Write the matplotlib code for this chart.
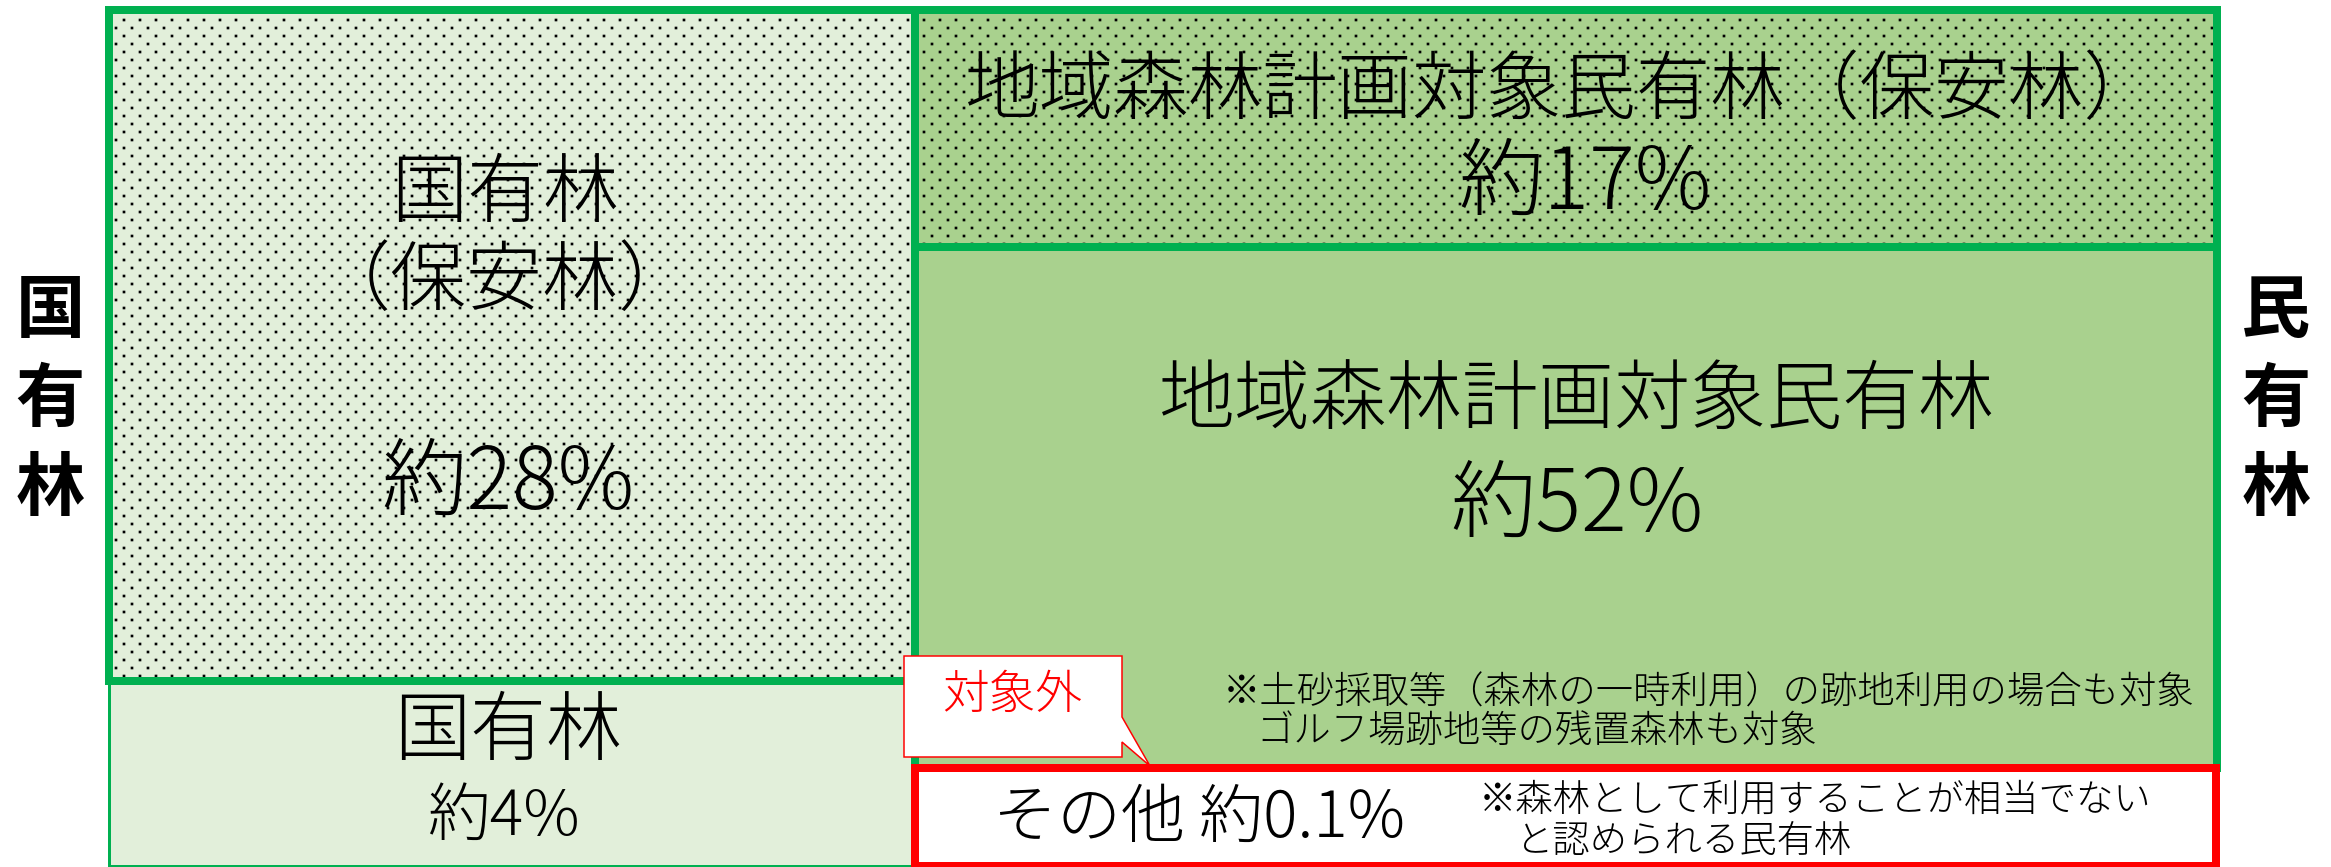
import numpy as np
import matplotlib
matplotlib.use("Agg")
import matplotlib.pyplot as plt
import matplotlib.hatch as mhatch
from matplotlib.path import Path
from matplotlib.patches import Rectangle, Polygon

plt.rcParams['font.family'] = ['Noto Sans CJK JP', 'DejaVu Sans']

# ---------------- data ----------------
categories = ["国有林\n（保安林）", "国有林", "地域森林計画対象民有林（保安林）",
              "地域森林計画対象民有林", "その他"]
shares = [28, 4, 17, 52, 0.1]
side_labels = ["国有林", "民有林"]
notes_private = ["※土砂採取等（森林の一時利用）の跡地利用の場合も対象",
                 "ゴルフ場跡地等の残置森林も対象"]
notes_other = ["※森林として利用することが相当でない", "と認められる民有林"]
callout_label = "対象外"

# ---------------- style / layout (pixel space) ----------------
GREEN = "#00B050"
RED = "#FF0000"
LIGHT = "#E2EFDA"
MID = "#A9D18E"

# boxes: x0, y0 (top), x1, y1 (bottom), fill, dotted, edge, edge width px
boxes = [
    (109, 10, 915, 681, LIGHT, True, GREEN, 8),
    (109, 681, 915, 866, LIGHT, False, GREEN, 3),
    (915, 10, 2217, 247, MID, True, GREEN, 8),
    (915, 247, 2217, 768, MID, False, GREEN, 8),
    (915, 768, 2216, 866, "white", False, RED, 8),
]

DOT_HALF = 1.0 / 96.0


class StaggeredSquareDots(mhatch.HatchPatternBase):
    """Dotted fill: staggered rows of small square dots."""
    def __init__(self, hatch, density):
        self.cols = hatch.count('.') * density
        self.rows = 2 * self.cols
        self.num_vertices = self.cols * self.rows * 5

    def set_vertices_and_codes(self, vertices, codes):
        h = DOT_HALF
        sq = np.array([[-h, -h], [h, -h], [h, h], [-h, h], [-h, -h]])
        sc = [Path.MOVETO, Path.LINETO, Path.LINETO, Path.LINETO, Path.CLOSEPOLY]
        k = 0
        for r in range(self.rows):
            y = (r + 0.5) / self.rows
            for c in range(self.cols):
                x = (c + 0.25 + 0.5 * (r % 2)) / self.cols
                vertices[k:k + 5] = sq + [x, y]
                codes[k:k + 5] = sc
                k += 5


_i = mhatch._hatch_types.index(mhatch.SmallFilledCircles)
mhatch._hatch_types[_i] = StaggeredSquareDots
plt.rcParams['hatch.linewidth'] = 0.5

DPI = 96
W, H = 2331, 867
fig = plt.figure(figsize=(W / DPI, H / DPI), dpi=DPI)
ax = fig.add_axes([0, 0, 1, 1])
ax.set_xlim(0, W)
ax.set_ylim(H, 0)
ax.axis("off")

px = 72.0 / DPI  # points per pixel

# fills
for (x0, y0, x1, y1, fc, dotted, ec, lw) in boxes:
    ax.add_patch(Rectangle((x0, y0), x1 - x0, y1 - y0, facecolor=fc,
                           edgecolor="black" if dotted else "none",
                           hatch="." if dotted else None, linewidth=0, zorder=1))
# borders
for (x0, y0, x1, y1, fc, dotted, ec, lw) in boxes:
    ax.add_patch(Rectangle((x0, y0), x1 - x0, y1 - y0, facecolor="none",
                           edgecolor=ec, linewidth=lw * px, joinstyle="miter",
                           zorder=3 if ec == RED else 2))

pct = [f"約{v:g}%" for v in shares]
TXT = dict(color="black", ha="center", va="center", fontweight="light", zorder=5)
TL = 57   # title size
PC = 64   # percent size

# 国有林（保安林）
ax.text(505, 194, categories[0].split("\n")[0], fontsize=TL, **TXT)
ax.text(505, 282, categories[0].split("\n")[1], fontsize=TL, **TXT)
ax.text(508, 484, pct[0], fontsize=PC, **TXT)
# 国有林
ax.text(508, 733, categories[1], fontsize=TL, **TXT)
ax.text(503, 818, pct[1], fontsize=47, **TXT)
# 民有林（保安林）
ax.text(1562, 92, categories[2], fontsize=56, **TXT)
ax.text(1585, 184, pct[2], fontsize=PC, **TXT)
# 民有林
ax.text(1577, 401, categories[3], fontsize=TL, **TXT)
ax.text(1577, 506, pct[3], fontsize=PC, **TXT)
# notes
ax.text(1223, 693, notes_private[0], fontsize=28, color="black", ha="left",
        va="center", fontweight="light", zorder=5)
ax.text(1256, 732, notes_private[1], fontsize=28, color="black", ha="left",
        va="center", fontweight="light", zorder=5)
# その他
ax.text(993, 819, f"{categories[4]} {pct[4]}", fontsize=48, color="black",
        ha="left", va="center", fontweight="light", zorder=5)
ax.text(1479, 800, notes_other[0], fontsize=28, color="black", ha="left",
        va="center", fontweight="light", zorder=5)
ax.text(1516, 841, notes_other[1], fontsize=28, color="black", ha="left",
        va="center", fontweight="light", zorder=5)

# callout
callout = [(904, 656), (1122, 656), (1122, 717), (1150, 766), (1122, 742),
           (1122, 757), (904, 757)]
ax.add_patch(Polygon(callout, closed=True, facecolor="white", edgecolor=RED,
                     linewidth=1.5 * px, zorder=6))
ax.text(1012, 695, callout_label, fontsize=35, color=RED, ha="center",
        va="center", fontweight="light", zorder=7)

# side labels (vertical)
pitch = 89
for xc, lab in zip([50, 2276], side_labels):
    for i, ch in enumerate(lab):
        ax.text(xc, 312 + i * pitch, ch, fontsize=52, fontweight="bold",
                ha="center", va="center", color="black", zorder=5)

fig.savefig("out.png", dpi=DPI)
